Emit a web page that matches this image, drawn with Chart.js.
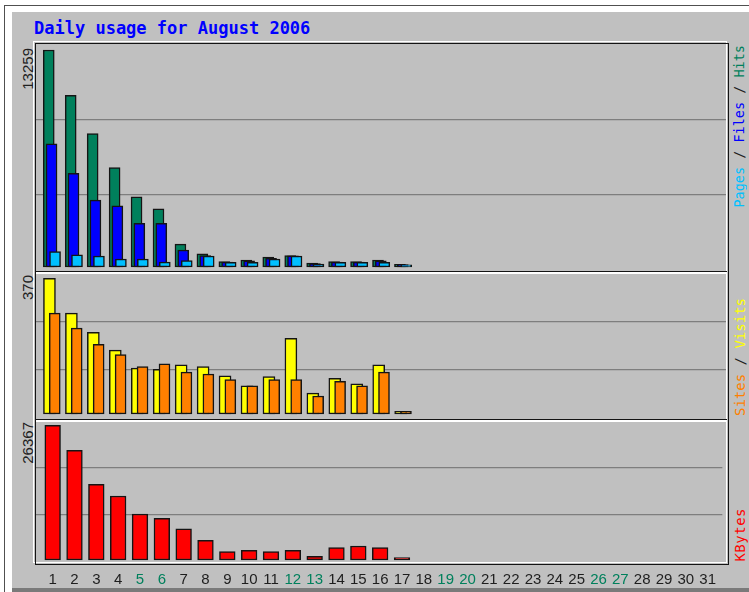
<!DOCTYPE html>
<html>
<head>
<meta charset="utf-8">
<title>Daily usage for August 2006</title>
<script src="https://cdn.jsdelivr.net/npm/chart.js@4.4.0/dist/chart.umd.min.js"></script>
<style>
  html, body { margin:0; padding:0; background:#ffffff; width:749px; height:592px; overflow:hidden; }
  #wrap { position:absolute; left:0; top:0; width:749px; height:592px; overflow:hidden; }
  .abs { position:absolute; box-sizing:border-box; }
  #outerline { left:4px; top:5px; width:800px; height:600px; border-left:1px solid #505050; border-top:1px solid #505050; }
  #bg { left:12px; top:12px; width:760px; height:576px; background:#c0c0c0; }
  #band { left:12px; top:588px; width:760px; height:10px; background:#7a7a7a; }
  #frameW { left:33px; top:41px; width:694px; height:522px; border:1.5px solid #ffffff; }
  #frameB { left:34.5px; top:42.5px; width:694px; height:522px; border:1.5px solid #141414; }
  .divB { left:36px; width:691px; height:1.5px; background:#141414; }
  .divW { left:36px; width:691px; height:1.5px; background:#ffffff; }
  #title { left:34px; top:20px; font-family:"DejaVu Sans Mono", monospace; font-weight:bold; font-size:17px; line-height:17px; color:#0000ff; white-space:nowrap; }
  .vt { position:absolute; writing-mode:vertical-rl; transform:rotate(180deg); white-space:nowrap; line-height:1; }
  .maxlab { font-family:"Liberation Sans", Arial, sans-serif; font-size:15px; color:#202020; width:15px; left:20px; }
  .leg { font-family:"DejaVu Sans Mono", monospace; font-size:14px; width:14px; left:733px; }
  canvas { position:absolute; }
</style>
</head>
<body>
<div id="wrap">
  <div id="outerline" class="abs"></div>
  <div id="bg" class="abs"></div>
  <div id="band" class="abs"></div>
  <div id="frameW" class="abs"></div>
  <div id="frameB" class="abs"></div>
  <div class="abs divB" style="top:270.5px"></div>
  <div class="abs divW" style="top:272px"></div>
  <div class="abs divB" style="top:418.5px"></div>
  <div class="abs divW" style="top:420px"></div>
  <div id="title" class="abs">Daily usage for August 2006</div>

  <div id="max1" class="vt maxlab" style="top:48px"></div>
  <div id="max2" class="vt maxlab" style="top:275px"></div>
  <div id="max3" class="vt maxlab" style="top:422px"></div>

  <div class="vt leg" style="bottom:384px;font-size:13.5px;"><span style="color:#00c0ff">Pages</span><span style="color:#202020"> / </span><span style="color:#0000ff">Files</span><span style="color:#202020"> / </span><span style="color:#00805c">Hits</span></div>
  <div class="vt leg" style="bottom:176px;"><span style="color:#ff8000">Sites</span><span style="color:#202020"> / </span><span style="color:#ffff00">Visits</span></div>
  <div class="vt leg" style="bottom:30px;letter-spacing:0.5px;"><span style="color:#ff0000">KBytes</span></div>

  <canvas id="c1" width="690" height="226" style="left:36px;top:44px;width:690px;height:226px;"></canvas>
  <canvas id="c2" width="690" height="145" style="left:36px;top:273px;width:690px;height:145px;"></canvas>
  <canvas id="c3" width="690" height="178" style="left:36px;top:421px;width:690px;height:178px;"></canvas>
</div>
<script>
// ---- data (August 2006, days 1..17 have data) ----
const DAYS = [1,2,3,4,5,6,7,8,9,10,11,12,13,14,15,16,17,18,19,20,21,22,23,24,25,26,27,28,29,30,31];
const HITS   = [13259,10490,8150,6070,4280,3560,1400,800,330,430,610,700,240,330,330,430,160];
const FILES  = [7520,5720,4090,3730,2670,2670,1040,700,300,370,530,680,210,300,300,380,150];
const PAGES  = [940,750,670,490,490,300,390,670,285,285,490,670,180,285,285,285,140];
const VISITS = [370,275,223,174,125,122,134,129,104,77,102,206,57,97,82,134,7];
const SITES  = [275,234,190,162,129,137,114,109,94,77,94,94,49,89,77,114,7];
const KBYTES = [26367,21470,14815,12525,9000,8160,6125,3855,1624,1898,1624,1898,724,2407,2740,2407,480];

// ---- styling ----
const C_HITS = '#00805c', C_FILES = '#0000ff', C_PAGES = '#00c0ff';
const C_VISITS = '#ffff00', C_SITES = '#ff8000', C_KBYTES = '#ff0000';
const C_BORDER = '#141414', C_GRID = '#7e7e7e', C_TEXT = '#1e1e1e';
const X_MIN = 0.237, X_MAX = 31.672;          // visible day range of the panels
const SHIFT = { xh: -0.182, xf: -0.055, xp: 0.105, xv: -0.15, xs: 0.091 }; // bar offsets in day units

function isWeekend(d) { const w = new Date(2006, 7, d).getDay(); return w === 0 || w === 6; }

function xScales(ids, showLabels) {
  const s = {
    x: {
      type: 'linear', min: X_MIN, max: X_MAX, offset: false, display: showLabels,
      grid: { display: false, drawTicks: false, offset: false }, border: { display: false },
      afterBuildTicks: ax => { ax.ticks = DAYS.map(v => ({ value: v })); },
      ticks: {
        autoSkip: false, maxRotation: 0, padding: 10,
        font: { family: 'Liberation Sans', size: 15 },
        color: ctx => isWeekend(ctx.tick.value) ? C_HITS : C_TEXT
      }
    }
  };
  ids.forEach(id => {
    s[id] = { type: 'linear', display: false, offset: false, grid: { offset: false },
              min: X_MIN - SHIFT[id], max: X_MAX - SHIFT[id] };
  });
  return s;
}

function yScale(maxVal, below, above) {
  return {
    type: 'linear', min: -maxVal * below, max: maxVal * above, display: true,
    ticks: { display: false }, border: { display: false },
    grid: { color: C_GRID, lineWidth: 1.3, drawTicks: false },
    afterBuildTicks: ax => {
      const r = ax.max - ax.min;
      ax.ticks = [{ value: ax.min + r / 3 }, { value: ax.min + 2 * r / 3 }];
    }
  };
}

function ds(label, data, axis, color, thick) {
  return { label, data, xAxisID: axis, yAxisID: 'y', backgroundColor: color, grouped: false,
           borderColor: C_BORDER, borderWidth: 1.5, borderSkipped: false, barThickness: thick };
}

const common = {
  responsive: false, animation: false, events: [],
  plugins: { legend: { display: false }, tooltip: { enabled: false } },
  layout: { padding: 0 }
};

const mHits = Math.max(...HITS), mVisits = Math.max(...VISITS), mK = Math.max(...KBYTES);
document.getElementById('max1').textContent = String(mHits);
document.getElementById('max2').textContent = String(mVisits);
document.getElementById('max3').textContent = String(mK);

new Chart(document.getElementById('c1'), {
  type: 'bar',
  data: { labels: DAYS, datasets: [
    ds('Pages', PAGES, 'xp', C_PAGES, 11),
    ds('Files', FILES, 'xf', C_FILES, 11),
    ds('Hits', HITS, 'xh', C_HITS, 11)
  ]},
  options: Object.assign({}, common, {
    scales: Object.assign(xScales(['xh','xf','xp'], false), { y: yScale(mHits, 3/217, 223/217) })
  })
});

new Chart(document.getElementById('c2'), {
  type: 'bar',
  data: { labels: DAYS, datasets: [
    ds('Sites', SITES, 'xs', C_SITES, 11),
    ds('Visits', VISITS, 'xv', C_VISITS, 12)
  ]},
  options: Object.assign({}, common, {
    scales: Object.assign(xScales(['xv','xs'], false), { y: yScale(mVisits, 4/135.7, 141/135.7) })
  })
});

new Chart(document.getElementById('c3'), {
  type: 'bar',
  data: { labels: DAYS, datasets: [
    ds('KBytes', KBYTES, 'x', C_KBYTES, 15.7)
  ]},
  options: Object.assign({}, common, {
    scales: Object.assign(xScales([], true), { y: yScale(mK, 1/134.7, 139/134.7) })
  })
});
</script>
</body>
</html>
